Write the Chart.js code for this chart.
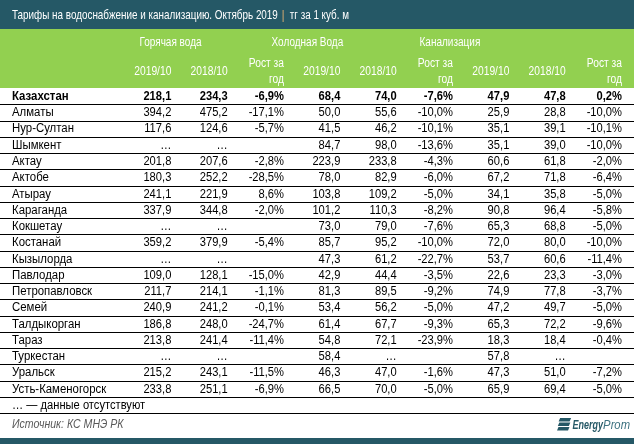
<!DOCTYPE html>
<html>
<head>
<meta charset="utf-8">
<script src="https://cdn.jsdelivr.net/npm/chart.js@4"></script>
<style>
  html, body { margin: 0; padding: 0; background: #fff; }
  #wrap { width: 634px; height: 444px; }
</style>
</head>
<body>
<div id="wrap"><canvas id="tarify"></canvas></div>
<script>
// таблица тарифов, данные
const regions = ['Казахстан', 'Алматы', 'Нур-Султан', 'Шымкент', 'Актау', 'Актобе', 'Атырау', 'Караганда',
    'Кокшетау', 'Костанай', 'Кызылорда', 'Павлодар', 'Петропавловск', 'Семей', 'Талдыкорган', 'Тараз',
    'Туркестан', 'Уральск', 'Усть-Каменогорск'];
const groups = ['Горячая вода', 'Холодная Вода', 'Канализация'];
const colLabels = ['2019/10', '2018/10', ['Рост за', 'год']];

const hot2019 = [218.1, 394.2, 117.6, null, 201.8, 180.3, 241.1, 337.9, null, 359.2, null, 109.0, 211.7, 240.9, 186.8, 213.8, null, 215.2, 233.8];
const hot2018 = [234.3, 475.2, 124.6, null, 207.6, 252.2, 221.9, 344.8, null, 379.9, null, 128.1, 214.1, 241.2, 248.0, 241.4, null, 243.1, 251.1];
const hotGrowth = [-6.9, -17.1, -5.7, null, -2.8, -28.5, 8.6, -2.0, null, -5.4, null, -15.0, -1.1, -0.1, -24.7, -11.4, null, -11.5, -6.9];

const cold2019 = [68.4, 50.0, 41.5, 84.7, 223.9, 78.0, 103.8, 101.2, 73.0, 85.7, 47.3, 42.9, 81.3, 53.4, 61.4, 54.8, 58.4, 46.3, 66.5];
const cold2018 = [74.0, 55.6, 46.2, 98.0, 233.8, 82.9, 109.2, 110.3, 79.0, 95.2, 61.2, 44.4, 89.5, 56.2, 67.7, 72.1, null, 47.0, 70.0];
const coldGrowth = [-7.6, -10.0, -10.1, -13.6, -4.3, -6.0, -5.0, -8.2, -7.6, -10.0, -22.7, -3.5, -9.2, -5.0, -9.3, -23.9, null, -1.6, -5.0];

const sewer2019 = [47.9, 25.9, 35.1, 35.1, 60.6, 67.2, 34.1, 90.8, 65.3, 72.0, 53.7, 22.6, 74.9, 47.2, 65.3, 18.3, 57.8, 47.3, 65.9];
const sewer2018 = [47.8, 28.8, 39.1, 39.0, 61.8, 71.8, 35.8, 96.4, 68.8, 80.0, 60.6, 23.3, 77.8, 49.7, 72.2, 18.4, null, 51.0, 69.4];
const sewerGrowth = [0.2, -10.0, -10.1, -10.0, -2.0, -6.4, -5.0, -5.8, -5.0, -10.0, -11.4, -3.0, -3.7, -5.0, -9.6, -0.4, null, -7.2, -5.0];

const columns = [hot2019, hot2018, hotGrowth, cold2019, cold2018, coldGrowth, sewer2019, sewer2018, sewerGrowth];
const colKeys = ['hot19', 'hot18', 'hotG', 'cold19', 'cold18', 'coldG', 'sew19', 'sew18', 'sewG'];

// где стоят заголовки групп (индекс колонки на шкале x)
const groupPos = [0.45, 2.88, 5.41];

const FONT = '"Liberation Sans", Arial, sans-serif';
const TEAL = '#255866';
const GREEN = '#92d050';

function fmt(v, growth) {
    if (v === null) return growth ? '' : '…';
    return v.toFixed(1).replace('.', ',') + (growth ? '%' : '');
}

// текст, сжатый по горизонтали (узкий шрифт как в оригинале)
function narrowText(c, text, x, y, font, align, sx) {
    c.save();
    c.font = font;
    c.textAlign = align;
    c.translate(x, y);
    c.scale(sx, 1);
    c.fillText(text, 0, 0);
    const w = c.measureText(text).width * sx;
    c.restore();
    return w;
}

const tablePlugin = {
    id: 'tablePlugin',
    beforeDraw(chart) {
        const c = chart.ctx;
        const W = chart.width, H = chart.height;
        const area = chart.chartArea;
        c.save();
        c.fillStyle = '#fff';
        c.fillRect(0, 0, W, H);
        c.fillStyle = TEAL;
        c.fillRect(0, 0, W, 29);
        c.fillRect(0, H - 6, W, 6);
        c.fillStyle = GREEN;
        c.fillRect(0, 29, W, area.top - 29);
        c.restore();
    },
    afterDraw(chart) {
        const c = chart.ctx;
        const x = chart.scales.x, y = chart.scales.y;
        const W = chart.width, H = chart.height;
        const colW = x.getPixelForValue(1) - x.getPixelForValue(0);
        const rowH = y.getPixelForValue(1) - y.getPixelForValue(0);
        c.save();
        c.textBaseline = 'middle';

        // заголовок
        c.fillStyle = '#fff';
        const t1 = 'Тарифы на водоснабжение и канализацию. Октябрь 2019';
        const w1 = narrowText(c, t1, 12, 15.5, '13px ' + FONT, 'left', 0.76);
        c.fillStyle = '#e0b070';
        narrowText(c, '|', 12 + w1 + 4, 15.5, '13px ' + FONT, 'left', 0.8);
        c.fillStyle = '#fff';
        narrowText(c, 'тг за 1 куб. м', 12 + w1 + 12, 15.5, '12px ' + FONT, 'left', 0.82);

        // шапка таблицы
        groups.forEach((g, i) => narrowText(c, g, x.getPixelForValue(groupPos[i]), 42.5, '12.5px ' + FONT, 'center', 0.8));
        colKeys.forEach((k, i) => {
            const lab = colLabels[i % 3];
            const rx = x.getPixelForValue(i) + colW / 2 - 2;
            if (Array.isArray(lab)) {
                narrowText(c, lab[0], rx, 64, '12.5px ' + FONT, 'right', 0.82);
                narrowText(c, lab[1], rx, 80, '12.5px ' + FONT, 'right', 0.82);
            } else {
                narrowText(c, lab, rx, 72, '12.5px ' + FONT, 'right', 0.82);
            }
        });

        // строки
        c.fillStyle = '#000';
        regions.forEach((r, j) => {
            const cy = y.getPixelForValue(j) + 0.5;
            const f = (j === 0 ? 'bold ' : '') + '12px ' + FONT;
            narrowText(c, r, 12, cy, f, 'left', 0.95);
            columns.forEach((col, i) => {
                const rx = x.getPixelForValue(i) + colW / 2 - 2;
                narrowText(c, fmt(col[j], i % 3 === 2), rx, cy, f, 'right', 0.93);
            });
        });

        // линии между строками
        c.strokeStyle = '#000';
        c.lineWidth = 1;
        c.beginPath();
        for (let j = 0; j < regions.length; j++) {
            const ly = Math.round(y.getPixelForValue(j) + rowH / 2) + 0.5;
            c.moveTo(0, ly);
            c.lineTo(W, ly);
        }
        const lastY = y.getPixelForValue(regions.length - 1) + rowH / 2;
        const noteY = Math.round(lastY + rowH) + 0.5;
        c.moveTo(0, noteY);
        c.lineTo(W, noteY);
        c.stroke();

        // примечание и источник
        c.fillStyle = '#000';
        narrowText(c, '… — данные отсутствуют', 12, lastY + rowH / 2 + 1, '12px ' + FONT, 'left', 0.93);
        c.fillStyle = '#595959';
        narrowText(c, 'Источник: КС МНЭ РК', 12, 425, 'italic 12px ' + FONT, 'left', 0.88);

        // логотип EnergyProm, выровнен по правому краю
        const eFont = 'italic bold 12.5px ' + FONT;
        const pFont = 'italic 12.5px ' + FONT;
        c.font = eFont;
        const ew = c.measureText('Energy').width * 0.72;
        c.font = pFont;
        const pw = c.measureText('Prom').width * 0.9;
        const lx = 630 - ew - pw;
        c.fillStyle = TEAL;
        for (let k = 0; k < 3; k++) {
            const by = 418 + k * 4.5;
            const sx = lx - 14 - k * 0.8;
            c.beginPath();
            c.moveTo(sx + 1.5, by);
            c.lineTo(sx + 12.5, by);
            c.lineTo(sx + 11, by + 3.5);
            c.lineTo(sx, by + 3.5);
            c.closePath();
            c.fill();
        }
        narrowText(c, 'Energy', lx, 425.5, eFont, 'left', 0.72);
        c.fillStyle = '#3d7280';
        narrowText(c, 'Prom', lx + ew, 425.5, pFont, 'left', 0.9);
        c.restore();
    }
};

const config = {
    type: 'bar',
    data: { labels: colKeys, datasets: [] },
    options: {
        responsive: true,
        maintainAspectRatio: false,
        animation: false,
        layout: { padding: { left: 117, right: 10, top: 88, bottom: 47 } },
        scales: {
            x: { type: 'category', labels: colKeys, offset: true, display: false },
            y: { type: 'category', labels: regions, offset: true, display: false }
        },
        plugins: {
            legend: { display: false },
            tooltip: { enabled: false },
            title: { display: false }
        }
    },
    plugins: [tablePlugin]
};

const tarify = new Chart(document.getElementById('tarify'), config);
</script>
</body>
</html>
